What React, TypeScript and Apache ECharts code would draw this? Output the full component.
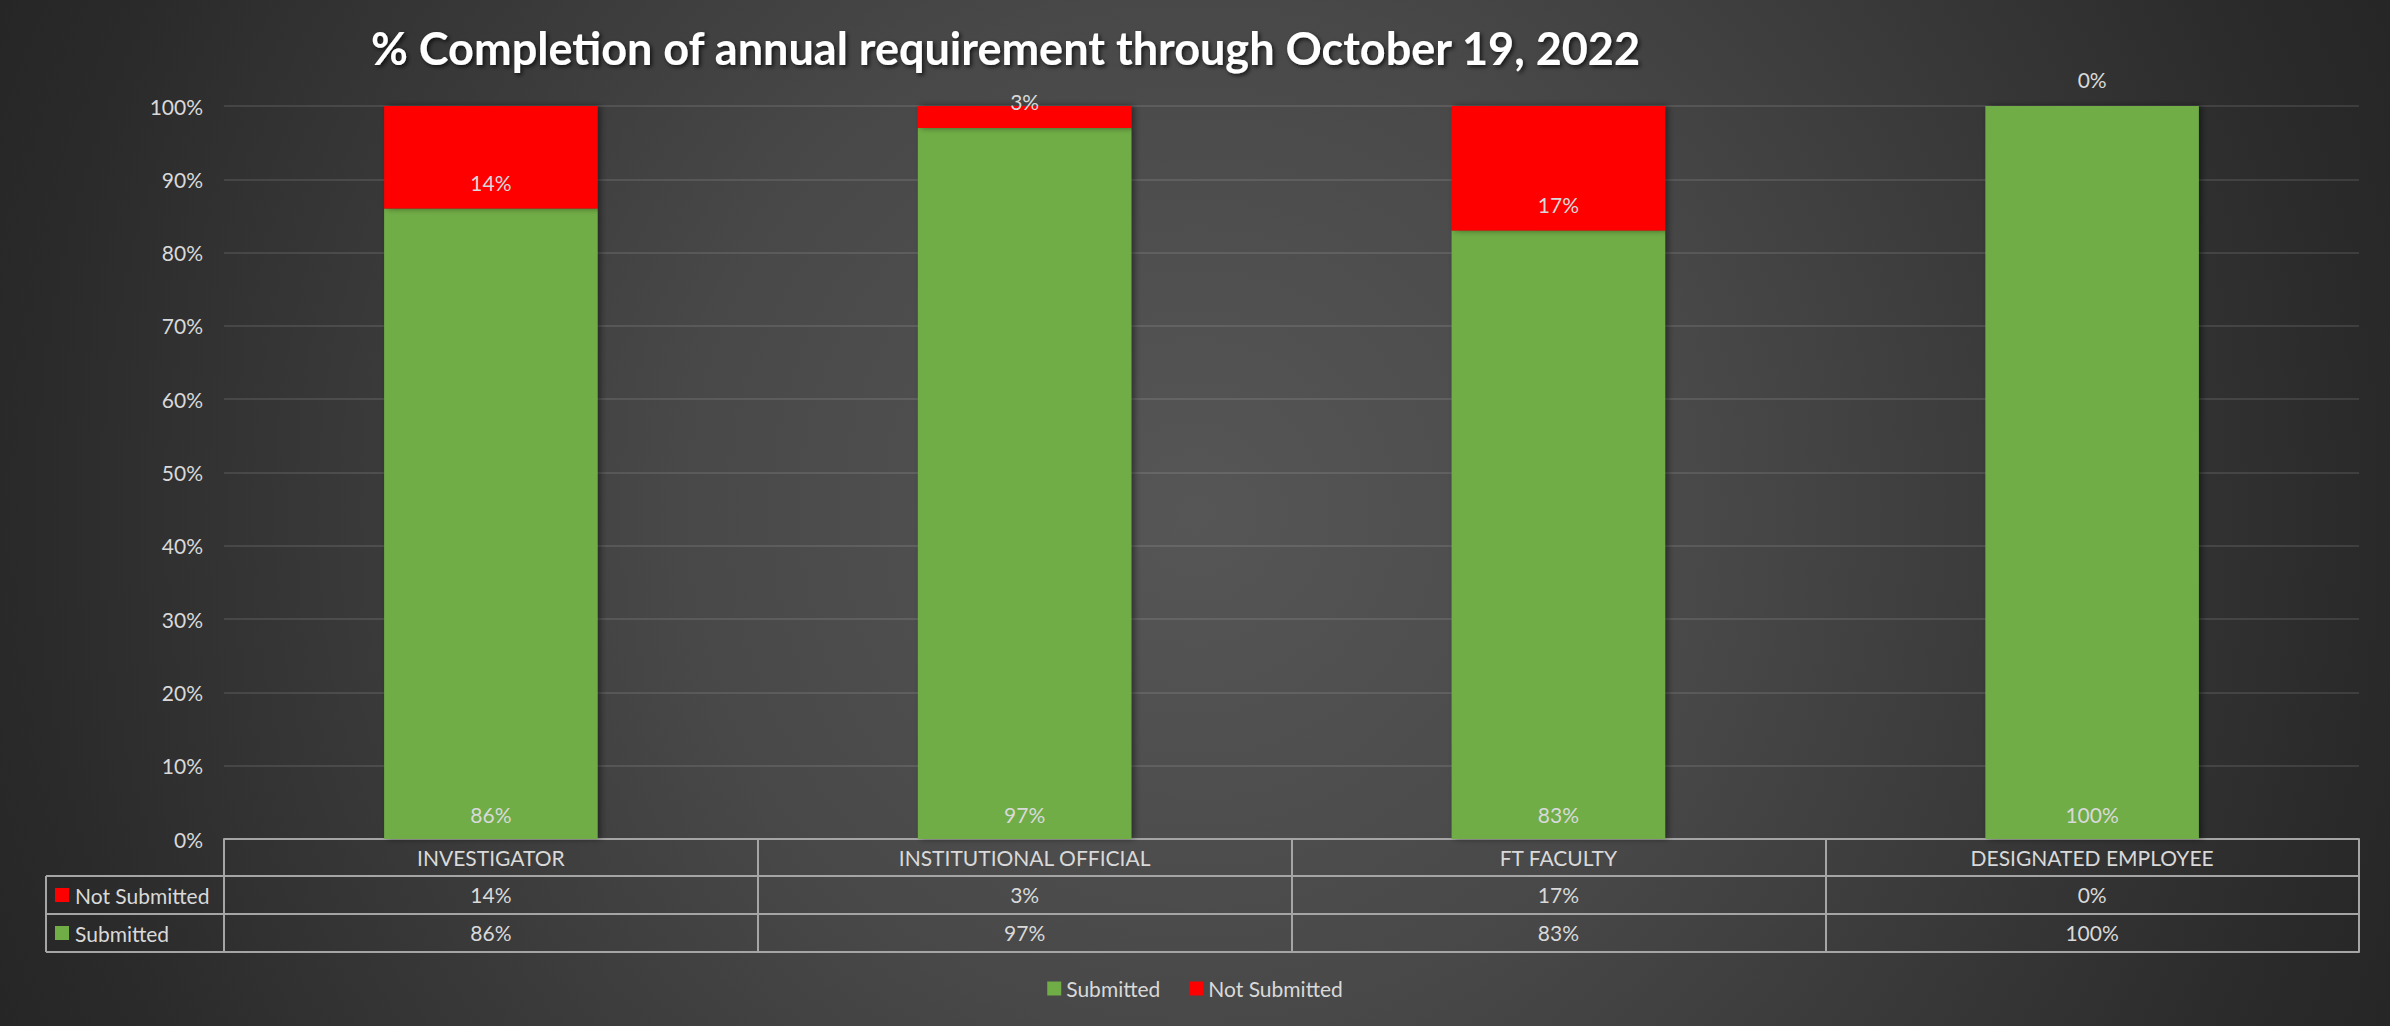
import React, { useEffect, useRef } from "react";
import * as echarts from "echarts";

const categories = ["INVESTIGATOR", "INSTITUTIONAL OFFICIAL", "FT FACULTY", "DESIGNATED EMPLOYEE"];
const submitted = [86, 97, 83, 100];
const notSubmitted = [14, 3, 17, 0];
const yTicks = { min: 0, max: 100, interval: 10 };
const titleText = "% Completion of annual requirement through October 19, 2022";
const seriesNames = ["Submitted", "Not Submitted"];

const W = 2390;
const H = 1026;
const GRID_LEFT = 224;
const GRID_RIGHT = 31;
const GRID_TOP = 106;
const GRID_BOTTOM_Y = 839;
const ROW1 = 37;
const ROW2 = 38;
const TABLE_LEFT = 46;
const FONT = "Lato, 'Open Sans', sans-serif";
const TEXT_COLOR = "#d9d9d9";
const LINE_COLOR = "#a5a5a5";
const GREEN = "#70ad47";
const RED = "#ff0000";

export default function App() {
  const ref = useRef<HTMLDivElement>(null);
  useEffect(() => {
    if (!ref.current) return;
    const chart = echarts.init(ref.current, undefined, { renderer: "svg" });

    const tableAxis = (offset: number, tickLen: number, formatter: any, showLabel: boolean, showTick: boolean) => ({
      type: "category",
      data: categories,
      position: "bottom",
      offset,
      axisLine: { show: true, lineStyle: { color: LINE_COLOR, width: 2 } },
      axisTick: { show: showTick, length: tickLen, inside: false, alignWithLabel: false, lineStyle: { color: LINE_COLOR, width: 2 } },
      axisLabel: {
        show: showLabel,
        interval: 0,
        margin: 8,
        color: TEXT_COLOR,
        fontSize: 21,
        fontFamily: FONT,
        formatter,
      },
      splitLine: { show: false },
    });

    const row2Top = GRID_BOTTOM_Y + ROW1;
    const row3Top = row2Top + ROW2;
    const tableBottom = row3Top + ROW2;
    const lineStyle = { stroke: LINE_COLOR, lineWidth: 2 };

    chart.setOption({
      animation: false,
      backgroundColor: {
        type: "radial",
        x: W / 2,
        y: H / 2,
        r: 1300,
        global: true,
        colorStops: [
          { offset: 0, color: "#565656" },
          { offset: 0.4, color: "#484848" },
          { offset: 0.9, color: "#2a2a2a" },
          { offset: 1, color: "#262626" },
        ],
      },
      title: {
        text: titleText,
        left: 366,
        top: 20,
        textStyle: {
          color: "#ffffff",
          fontSize: 45,
          fontWeight: "bold",
          fontFamily: FONT,
          textShadowColor: "rgba(0,0,0,0.7)",
          textShadowBlur: 4,
          textShadowOffsetX: 2,
          textShadowOffsetY: 2,
        },
      },
      legend: {
        data: seriesNames,
        left: "center",
        top: 973,
        icon: "rect",
        itemWidth: 14,
        itemHeight: 14,
        itemGap: 29,
        textStyle: { color: TEXT_COLOR, fontSize: 21, fontFamily: FONT },
      },
      grid: {
        left: GRID_LEFT,
        right: GRID_RIGHT,
        top: GRID_TOP,
        bottom: H - GRID_BOTTOM_Y,
        containLabel: false,
      },
      xAxis: [
        tableAxis(0, ROW1, (v: string) => v, true, true),
        tableAxis(ROW1, ROW2, (_v: string, i: number) => notSubmitted[i] + "%", true, true),
        tableAxis(ROW1 + ROW2, ROW2, (_v: string, i: number) => submitted[i] + "%", true, true),
        tableAxis(ROW1 + ROW2 + ROW2, 0, () => "", false, false),
      ],
      yAxis: {
        type: "value",
        min: yTicks.min,
        max: yTicks.max,
        interval: yTicks.interval,
        axisLine: { show: false },
        axisTick: { show: false },
        axisLabel: {
          formatter: "{value}%",
          color: TEXT_COLOR,
          fontSize: 21,
          fontFamily: FONT,
          margin: 21,
        },
        splitLine: { show: true, lineStyle: { color: "rgba(255,255,255,0.1)", width: 2 } },
      },
      series: [
        {
          name: seriesNames[0],
          type: "bar",
          stack: "total",
          xAxisIndex: 0,
          data: submitted,
          barWidth: "40%",
          itemStyle: { color: GREEN, shadowBlur: 6, shadowColor: "rgba(0,0,0,0.45)", shadowOffsetX: 3 },
          label: {
            show: true,
            position: "insideBottom",
            distance: 14,
            formatter: "{c}%",
            color: TEXT_COLOR,
            fontSize: 21,
            fontFamily: FONT,
          },
        },
        {
          name: seriesNames[1],
          type: "bar",
          stack: "total",
          xAxisIndex: 0,
          data: notSubmitted,
          barWidth: "40%",
          itemStyle: { color: RED, shadowBlur: 6, shadowColor: "rgba(0,0,0,0.45)", shadowOffsetX: 3 },
          label: {
            show: true,
            position: "insideBottom",
            distance: 16,
            formatter: "{c}%",
            color: TEXT_COLOR,
            fontSize: 21,
            fontFamily: FONT,
          },
        },
      ],
      graphic: [
        { type: "line", shape: { x1: TABLE_LEFT, y1: row2Top, x2: GRID_LEFT, y2: row2Top }, style: lineStyle },
        { type: "line", shape: { x1: TABLE_LEFT, y1: row3Top, x2: GRID_LEFT, y2: row3Top }, style: lineStyle },
        { type: "line", shape: { x1: TABLE_LEFT, y1: tableBottom, x2: GRID_LEFT, y2: tableBottom }, style: lineStyle },
        { type: "line", shape: { x1: TABLE_LEFT, y1: row2Top, x2: TABLE_LEFT, y2: tableBottom }, style: lineStyle },
        { type: "rect", shape: { x: 55, y: row2Top + ROW2 / 2 - 7, width: 14, height: 14 }, style: { fill: RED } },
        {
          type: "text",
          x: 75,
          y: row2Top + ROW2 / 2,
          style: { text: seriesNames[1], fill: TEXT_COLOR, fontSize: 21, fontFamily: FONT, verticalAlign: "middle" },
        },
        { type: "rect", shape: { x: 55, y: row3Top + ROW2 / 2 - 7, width: 14, height: 14 }, style: { fill: GREEN } },
        {
          type: "text",
          x: 75,
          y: row3Top + ROW2 / 2,
          style: { text: seriesNames[0], fill: TEXT_COLOR, fontSize: 21, fontFamily: FONT, verticalAlign: "middle" },
        },
      ],
    });
    return () => chart.dispose();
  }, []);
  return <div ref={ref} style={{ position: "absolute", left: 0, top: 0, width: W, height: H }} />;
}
